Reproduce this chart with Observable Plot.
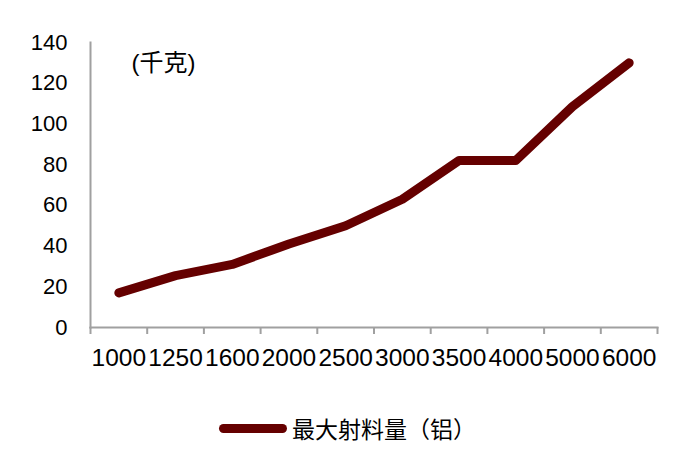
<!DOCTYPE html>
<html>
<head>
<meta charset="utf-8">
<script src="https://cdn.jsdelivr.net/npm/d3@7"></script>
<script src="https://cdn.jsdelivr.net/npm/@observablehq/plot@0.6"></script>
<style>
  html, body { margin: 0; padding: 0; background: #fff; }
  #wrap { position: relative; width: 700px; height: 454px; font-family: "Liberation Sans", "Noto Sans CJK SC", sans-serif; }
  #legend { position: absolute; left: 219px; top: 411px; display: flex; align-items: center; font-size: 23px; color: #000; font-family: "Liberation Sans", "Noto Sans CJK SC", sans-serif; }
  #legend .sw { width: 68px; height: 9px; border-radius: 5px; background: #650000; margin-right: 5px; }
</style>
</head>
<body>
<div id="wrap">
  <div id="chart"></div>
  <div id="legend"><span class="sw"></span><span id="legendText"></span></div>
</div>
<script>
const categories = ["1000", "1250", "1600", "2000", "2500", "3000", "3500", "4000", "5000", "6000"];
const values = [17, 25.5, 31, 41, 50, 63, 82, 82, 108.5, 130];
const yTicks = [0, 20, 40, 60, 80, 100, 120, 140];
const seriesName = "最大射料量（铝）";
const unitLabel = "(千克)";

const data = categories.map((c, i) => ({cat: c, idx: i + 0.5, value: values[i]}));
const boundaries = d3.range(categories.length + 1);

const chart = Plot.plot({
  width: 700,
  height: 390,
  marginLeft: 90,
  marginRight: 43,
  marginTop: 42,
  marginBottom: 63,
  style: {fontFamily: "Liberation Sans, Noto Sans CJK SC, sans-serif", color: "#000", background: "#fff"},
  x: {type: "linear", domain: [0, categories.length], label: null},
  y: {domain: [0, 140], label: null},
  marks: [
    Plot.frame({anchor: "left", stroke: "#a0a0a0", strokeWidth: 2}),
    Plot.frame({anchor: "bottom", stroke: "#a0a0a0", strokeWidth: 2}),
    Plot.axisX({ticks: boundaries, tickSize: 7, tickFormat: () => "", stroke: "#a0a0a0", strokeWidth: 2, label: null}),
    Plot.axisX({ticks: data.map(d => d.idx), tickSize: 0, tickPadding: 21, fontSize: 24.5,
      tickFormat: (v) => categories[Math.floor(v)], label: null}),
    Plot.axisY({ticks: yTicks, tickSize: 0, tickPadding: 23, fontSize: 22, label: null}),
    Plot.text([unitLabel], {frameAnchor: "top-left", dx: 41, dy: 21, lineAnchor: "middle", textAnchor: "start",
      fontSize: 24, fill: "#000", text: d => d}),
    Plot.line(data, {x: "idx", y: "value", stroke: "#650000", strokeWidth: 9,
      strokeLinecap: "round", strokeLinejoin: "round"})
  ]
});
document.getElementById("chart").appendChild(chart);
document.getElementById("legendText").textContent = seriesName;
</script>
</body>
</html>
